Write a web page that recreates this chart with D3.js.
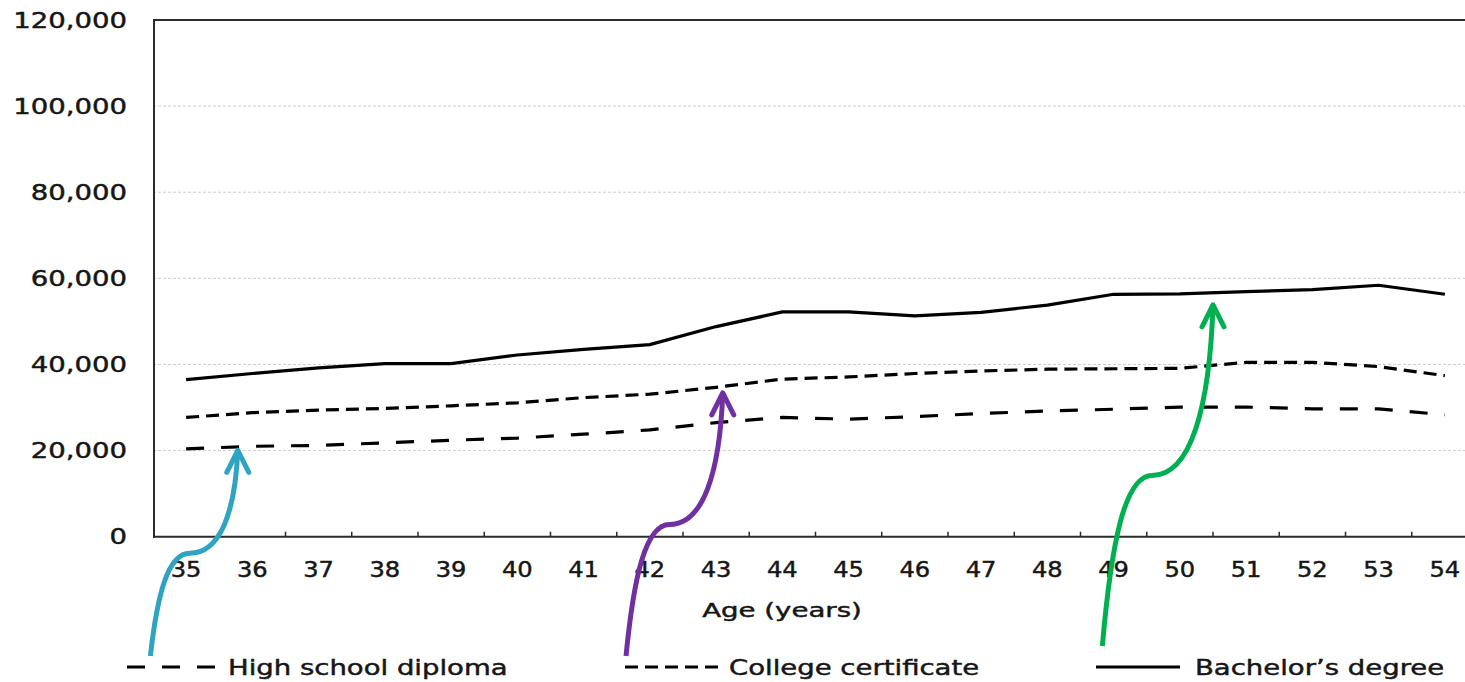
<!DOCTYPE html>
<html><head><meta charset="utf-8">
<script src="https://cdn.jsdelivr.net/npm/d3@7"></script>
<style>
html,body{margin:0;padding:0;background:#fff;}
svg{display:block;}
text{font-family:"DejaVu Sans",Verdana,sans-serif;fill:#161616;stroke:#161616;stroke-width:0.45px;}
</style></head><body>
<svg id="chart" width="1465" height="682"></svg>
<script>
// ---------- data ----------
const ages = [35,36,37,38,39,40,41,42,43,44,45,46,47,48,49,50,51,52,53,54];
const highSchool = [20400,21000,21200,21800,22400,22900,23800,24800,26500,27700,27300,27900,28600,29200,29600,30100,30100,29700,29700,28300];
const college    = [27700,28800,29400,29800,30400,31100,32300,33100,34700,36600,37100,37900,38500,38900,39000,39100,40500,40500,39500,37400];
const bachelor   = [36500,37900,39200,40200,40200,42200,43500,44600,48800,52200,52200,51300,52100,53800,56300,56400,56900,57400,58400,56300];
const yTicks = [0,20000,40000,60000,80000,100000,120000];
const seriesNames = ["High school diploma","College certificate","Bachelor\u2019s degree"];
const xTitle = "Age (years)";

// ---------- layout / style ----------
const W = 1465, H = 682;
const plot = {left:153, top:20, bottom:536.7, step:66.25};
const dashes = ["18,17","13,7",null];
const svg = d3.select("#chart");

const x = d3.scaleBand().domain(ages).range([plot.left, plot.left + ages.length*plot.step]).padding(0);
const y = d3.scaleLinear().domain([0,120000]).range([plot.bottom, plot.top]);
const xc = a => x(ages[0]) + x.bandwidth()/2 + (a - ages[0]) * x.step();

function stretchText(g, s){
  g.each(function(){
    const t = d3.select(this);
    const tx = +t.attr("x") || 0, ty = +t.attr("y") || 0;
    t.attr("x",0).attr("y",0).attr("transform",`translate(${tx},${ty}) scale(${s},1)`);
  });
}

// gridlines
svg.append("g").selectAll("line").data(yTicks.filter(v => v>0 && v<120000)).join("line")
  .attr("x1", plot.left).attr("x2", W)
  .attr("y1", d => y(d)).attr("y2", d => y(d))
  .attr("stroke","#cbcbcb").attr("stroke-width",1).attr("stroke-dasharray","3,2");

// frame
svg.append("line").attr("x1",plot.left).attr("x2",W).attr("y1",y(120000)).attr("y2",y(120000))
  .attr("stroke","#2b2b2b").attr("stroke-width",2);
svg.append("line").attr("x1",plot.left+1).attr("x2",plot.left+1).attr("y1",y(120000)-1).attr("y2",plot.bottom+1)
  .attr("stroke","#2b2b2b").attr("stroke-width",2);
svg.append("line").attr("x1",plot.left).attr("x2",W).attr("y1",plot.bottom).attr("y2",plot.bottom)
  .attr("stroke","#2b2b2b").attr("stroke-width",2);

// x ticks (inward, at band boundaries)
svg.append("g").selectAll("line").data(ages.slice(1)).join("line")
  .attr("x1", d => x(d)).attr("x2", d => x(d))
  .attr("y1", plot.bottom).attr("y2", plot.bottom-5)
  .attr("stroke","#2b2b2b").attr("stroke-width",1.5);

// y labels
svg.append("g").selectAll("text").data(yTicks).join("text")
  .attr("x", 127).attr("y", d => y(d)).attr("dy","0.36em")
  .attr("text-anchor","end").attr("font-size",21)
  .text(d => d3.format(",")(d))
  .call(stretchText, 1.31);

// x labels
svg.append("g").selectAll("text").data(ages).join("text")
  .attr("x", d => x(d) + x.bandwidth()/2).attr("y", 577)
  .attr("text-anchor","middle").attr("font-size",21)
  .text(d => d)
  .call(stretchText, 1.15);

// x title
svg.append("text").attr("x", 782).attr("y", 617).attr("text-anchor","middle")
  .attr("font-size",20).text(xTitle).call(stretchText, 1.38);

// lines
const series = [highSchool, college, bachelor];
const line = d3.line().x((d,i) => x(ages[i]) + x.bandwidth()/2).y(d => y(d));
svg.append("g").selectAll("path").data(series).join("path")
  .attr("d", d => line(d))
  .attr("fill","none").attr("stroke","#000").attr("stroke-width",3.2)
  .attr("stroke-dasharray", (d,i) => dashes[i]);

// legend
const legendLayout = [{x0:127, len:91, gap:10},{x0:625, len:94, gap:10},{x0:1096, len:84, gap:15}];
const legendY = 667;
const lg = svg.append("g").selectAll("g").data(seriesNames).join("g");
lg.append("line")
  .attr("x1", (d,i) => legendLayout[i].x0).attr("x2", (d,i) => legendLayout[i].x0 + legendLayout[i].len)
  .attr("y1", legendY).attr("y2", legendY)
  .attr("stroke","#000").attr("stroke-width",3.2)
  .attr("stroke-dasharray", (d,i) => dashes[i]);
lg.append("text")
  .attr("x", (d,i) => legendLayout[i].x0 + legendLayout[i].len + legendLayout[i].gap)
  .attr("y", 675).attr("font-size",21)
  .text(d => d)
  .call(stretchText, 1.31);

// annotation arrows
const arrows = [
  {series:0, tipAge:35.78, startAge:34.46, startY:656, gap:3.5, color:"#2ea3c2"},
  {series:1, tipAge:43.10, startAge:41.64, startY:656, gap:6.5, color:"#7030a0"},
  {series:2, tipAge:50.50, startAge:48.83, startY:646, gap:12,  color:"#00b050"}
];
function valueAt(arr, a){
  const i = Math.floor(a - ages[0]), f = (a - ages[0]) - i;
  return arr[i] + f * (arr[Math.min(i+1, arr.length-1)] - arr[i]);
}
const ag = svg.append("g");
arrows.forEach(a => {
  const sx = xc(a.startAge), sy = a.startY;
  const tx = xc(a.tipAge), ty = y(valueAt(series[a.series], a.tipAge)) + a.gap;
  const p = (u,v) => [sx + u*(tx-sx), sy + v*(ty-sy)];
  const path = d3.path();
  path.moveTo(...p(0,0));
  path.bezierCurveTo(...p(0.08,0.3), ...p(0.2,0.5), ...p(0.45,0.5));
  path.bezierCurveTo(...p(0.8,0.5), ...p(0.97,0.7), ...p(1,1));
  ag.append("path").attr("d", path.toString())
    .attr("fill","none").attr("stroke",a.color).attr("stroke-width",5).attr("stroke-linecap","butt");
  const head = d3.path();
  head.moveTo(tx-11, ty+22); head.lineTo(tx, ty); head.lineTo(tx+11, ty+22);
  ag.append("path").attr("d", head.toString())
    .attr("fill","none").attr("stroke",a.color).attr("stroke-width",5)
    .attr("stroke-linecap","round").attr("stroke-linejoin","round");
});
</script>
</body></html>
